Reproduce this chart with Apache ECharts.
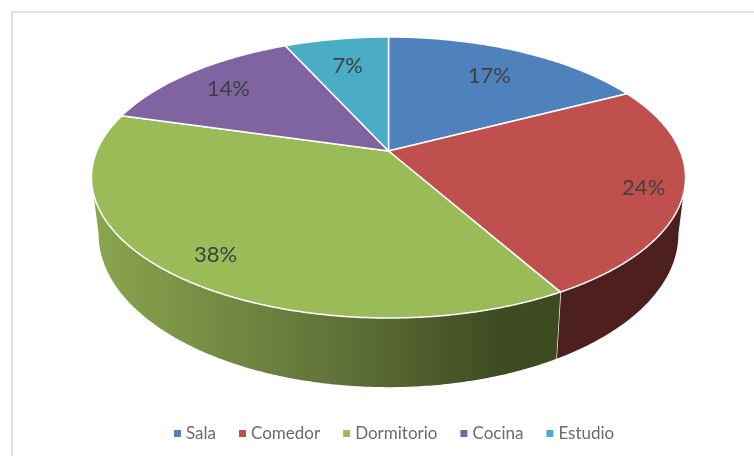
<!DOCTYPE html>
<html>
<head>
<meta charset="utf-8">
<style>html,body{margin:0;padding:0;background:#fff}#c{width:754px;height:456px}</style>
<script src="https://cdn.jsdelivr.net/npm/echarts@6/dist/echarts.min.js"></script>
</head>
<body>
<div id="c"></div>
<script>
const categories = ['Sala', 'Comedor', 'Dormitorio', 'Cocina', 'Estudio'];
const values = [17.4, 24.4, 37.6, 13.8, 6.8];
const colors = ['#4f81bd', '#c0504d', '#9bbb59', '#8064a2', '#4bacc6'];
const labelRadius = [0.745, 0.87, 0.84, 0.795, 0.75];

// perspective disc geometry
const view = { cx: 388.5, cy: 151, a: 291.7, b: 135.5, k: 0.1886, sx: 0.976, sy: 1.09, topMid: 177.5, botMid: 234 };
const total = values.reduce((s, v) => s + v, 0);
const starts = [];
values.reduce((s, v, i) => { starts[i] = s; return s + v; }, 0);
const toAngle = v => v / total * 360;

function topPoint(deg, r) {
  const t = deg * Math.PI / 180, u = r * Math.sin(t), v = r * Math.cos(t);
  const d = 1 + view.k * v;
  return [view.cx + view.a * u / d, view.cy - view.b * v / d];
}
function botPoint(deg) {
  const p = topPoint(deg, 1);
  return [view.cx + (p[0] - view.cx) * view.sx, view.botMid + (p[1] - view.topMid) * view.sy];
}
function arc(from, to, fn) {
  const pts = [], n = Math.max(2, Math.ceil((to - from) * 2));
  for (let i = 0; i <= n; i++) pts.push(fn(from + (to - from) * i / n));
  return pts;
}
const edgeR = Math.acos(-view.k) * 180 / Math.PI;  // right silhouette of the disc
const edgeL = 360 - edgeR;                         // left silhouette

const wallFill = {
  1: '#4d1f1e',
  2: { type: 'linear', global: true, x: 95, y: 0, x2: 560, y2: 0,
       colorStops: [{ offset: 0, color: '#8aa54e' }, { offset: 0.5, color: '#62743a' }, { offset: 0.88, color: '#3e4a20' }, { offset: 1, color: '#3e4a20' }] }
};

function renderWall(params, api) {
  const i = params.dataIndex;
  const a0 = toAngle(starts[i]), a1 = toAngle(starts[i] + values[i]);
  const from = Math.max(a0, edgeR), to = Math.min(a1, edgeL);
  if (to <= from) return null;
  const pts = arc(from, to, d => topPoint(d, 1)).concat(arc(from, to, botPoint).reverse());
  const fill = wallFill[i] || colors[i];
  return {
    type: 'group',
    children: [
      { type: 'polygon', shape: { points: pts }, style: { fill: fill, stroke: null } },
      { type: 'line', shape: { x1: topPoint(a1, 1)[0], y1: topPoint(a1, 1)[1], x2: botPoint(a1)[0], y2: botPoint(a1)[1] },
        style: { stroke: a1 < edgeL ? '#fff' : 'transparent', lineWidth: 1.3 } }
    ]
  };
}

function renderTop(i) {
  return function (params, api) {
    const a0 = toAngle(starts[i]), a1 = toAngle(starts[i] + values[i]);
    const pts = [topPoint(0, 0)].concat(arc(a0, a1, d => topPoint(d, 1)));
    const lp = topPoint((a0 + a1) / 2, labelRadius[i]);
    return {
      type: 'group',
      children: [
        { type: 'polygon', shape: { points: pts }, style: { fill: colors[i], stroke: '#fff', lineWidth: 1.5, lineJoin: 'round' } },
        { type: 'text', z2: 10, style: { x: lp[0], y: lp[1] + 2, text: Math.round(api.value(0) / total * 100) + '%',
            fill: '#404040', font: '22px Lato', textAlign: 'center', textVerticalAlign: 'middle' } }
      ]
    };
  };
}

const series = [{
  type: 'custom', name: 'paredes', coordinateSystem: 'none', z: 1, silent: true,
  data: values, renderItem: renderWall
}].concat(categories.map((name, i) => ({
  type: 'custom', name: name, coordinateSystem: 'none', z: 2, silent: true,
  itemStyle: { color: colors[i] },
  encode: { value: 0 },
  data: [values[i]], renderItem: renderTop(i)
})));

const chart = echarts.init(document.getElementById('c'), null, { renderer: 'canvas' });
chart.setOption({
  animation: false,
  color: colors,
  graphic: [{ type: 'rect', z: 0, shape: { x: 12, y: 12, width: 800, height: 500 }, style: { fill: '#fff', stroke: '#d9d9d9', lineWidth: 1.5 } }],
  legend: {
    data: categories, bottom: 9, left: 169, icon: 'rect', itemWidth: 7, itemHeight: 7, itemGap: 23,
    selectedMode: false,
    textStyle: { color: '#6a6a6a', fontFamily: 'Lato', fontSize: 17 }
  },
  series: series
});
</script>
</body>
</html>
